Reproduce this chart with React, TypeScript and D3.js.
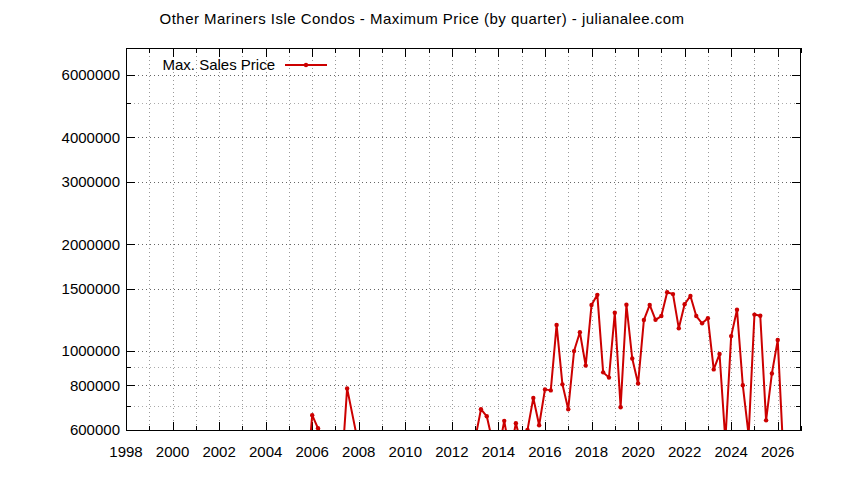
import React from "react";
import * as d3 from "d3";

const TITLE = "Other Mariners Isle Condos - Maximum Price (by quarter) - julianalee.com";
const SERIES_NAME = "Max. Sales Price";

// decimal year of each quarter (year + (q-1)/4)
const quarterTimes = [
  2005.75, 2006.0, 2006.25, 2006.5, 2007.25, 2007.5, 2008.0,
  2013.0, 2013.25, 2013.5, 2013.75,
  2014.0, 2014.25, 2014.5, 2014.75,
  2015.0, 2015.25, 2015.5, 2015.75,
  2016.0, 2016.25, 2016.5, 2016.75,
  2017.0, 2017.25, 2017.5, 2017.75,
  2018.0, 2018.25, 2018.5, 2018.75,
  2019.0, 2019.25, 2019.5, 2019.75,
  2020.0, 2020.25, 2020.5, 2020.75,
  2021.0, 2021.25, 2021.5, 2021.75,
  2022.0, 2022.25, 2022.5, 2022.75,
  2023.0, 2023.25, 2023.5, 2023.75,
  2024.0, 2024.25, 2024.5, 2024.75,
  2025.0, 2025.25, 2025.5, 2025.75,
  2026.0, 2026.25,
];

const maxPrices = [
  420000, 660000, 606000, 570000, 450000, 785000, 540000,
  565000, 686000, 655000, 555000,
  520000, 636000, 515000, 626000,
  542000, 600000, 738000, 618000,
  780000, 775000, 1185000, 806000,
  686000, 1000000, 1130000, 910000,
  1348000, 1440000, 871000, 842000,
  1282000, 695000, 1350000, 953000,
  810000, 1223000, 1349000, 1225000,
  1255000, 1465000, 1447000, 1159000,
  1355000, 1430000, 1255000, 1197000,
  1238000, 888000, 981000, 560000,
  1102000, 1308000, 801000, 580000,
  1267000, 1257000, 638000, 865000,
  1074000, 500000,
];

const xMajorTicks = [1998, 2000, 2002, 2004, 2006, 2008, 2010, 2012, 2014, 2016, 2018, 2020, 2022, 2024, 2026];
const xMinorTicks = [1999, 2001, 2003, 2005, 2007, 2009, 2011, 2013, 2015, 2017, 2019, 2021, 2023, 2025, 2027];
const yMajorTicks = [600000, 800000, 1000000, 1500000, 2000000, 3000000, 4000000, 6000000];
const yMinorTicks = [700000, 900000, 5000000];

const W = 844;
const H = 480;
const L = 126;
const R = 801;
const T = 48;
const B = 431;
const FONT = "'Liberation Sans', Arial, sans-serif";
const FS = 15;
const RED = "#cc0000";

export default function App() {
  const x = d3.scaleLinear().domain([1998, 2027]).range([L, R]);
  const y = d3.scaleLog().domain([595500, 7140000]).range([B, T]);
  const data = quarterTimes.map((t, i) => ({ t, v: maxPrices[i] }));
  const line = d3
    .line<{ t: number; v: number }>()
    .x((d) => x(d.t))
    .y((d) => y(d.v));
  const px = (v: number) => Math.round(v) + 0.5;

  return (
    <svg
      width={W}
      height={H}
      style={{ position: "fixed", left: 0, top: 0, background: "#fff" }}
      fontFamily={FONT}
    >
      <rect x={0} y={0} width={W} height={H} fill="#fff" />
      <defs>
        <clipPath id="plotclip">
          <rect x={L} y={T} width={R - L} height={B - T} />
        </clipPath>
      </defs>
      {/* grid */}
      {[...xMajorTicks, ...xMinorTicks].filter((t) => t > 1998 && t < 2027).map((t) => (
        <line key={"gx" + t} x1={px(x(t))} x2={px(x(t))} y1={T} y2={B} stroke="#999" strokeWidth={1} strokeDasharray="1,3" />
      ))}
      {yMajorTicks.filter((v) => v > 600000).map((v) => (
        <line key={"gy" + v} x1={L} x2={R} y1={px(y(v))} y2={px(y(v))} stroke="#666" strokeWidth={1} strokeDasharray="1,3" />
      ))}
      {yMinorTicks.map((v) => (
        <line key={"gym" + v} x1={L} x2={R} y1={px(y(v))} y2={px(y(v))} stroke="#aaa" strokeWidth={1} strokeDasharray="1,3" />
      ))}
      {/* ticks */}
      {xMajorTicks.map((t) => (
        <g key={"tx" + t}>
          <line x1={px(x(t))} x2={px(x(t))} y1={B} y2={B - 9} stroke="#000" />
          <line x1={px(x(t))} x2={px(x(t))} y1={T} y2={T + 9} stroke="#000" />
          <text x={x(t)} y={457} textAnchor="middle" fontSize={FS} fill="#000">{t}</text>
        </g>
      ))}
      {xMinorTicks.map((t) => (
        <g key={"txm" + t}>
          <line x1={px(x(t))} x2={px(x(t))} y1={B} y2={B - 5} stroke="#000" />
          <line x1={px(x(t))} x2={px(x(t))} y1={T} y2={T + 5} stroke="#000" />
        </g>
      ))}
      {yMajorTicks.map((v) => (
        <g key={"ty" + v}>
          <line x1={L} x2={L + 9} y1={px(y(v))} y2={px(y(v))} stroke="#000" />
          <line x1={R} x2={R - 9} y1={px(y(v))} y2={px(y(v))} stroke="#000" />
          <text x={120} y={y(v)} dy="0.36em" textAnchor="end" fontSize={FS} fill="#000">{v}</text>
        </g>
      ))}
      {yMinorTicks.map((v) => (
        <g key={"tym" + v}>
          <line x1={L} x2={L + 5} y1={px(y(v))} y2={px(y(v))} stroke="#000" />
          <line x1={R} x2={R - 5} y1={px(y(v))} y2={px(y(v))} stroke="#000" />
        </g>
      ))}
      {/* data */}
      <g clipPath="url(#plotclip)">
        <path d={line(data) || ""} fill="none" stroke={RED} strokeWidth={2} strokeLinejoin="round" />
        {data.map((d, i) => (
          <circle key={"p" + i} cx={x(d.t)} cy={y(d.v)} r={2.2} fill={RED} />
        ))}
      </g>
      {/* border */}
      <rect x={L + 0.5} y={T + 0.5} width={R - L - 1} height={B - T - 1} fill="none" stroke="#000" strokeWidth={1} />
      {/* legend */}
      <text x={275} y={70} textAnchor="end" fontSize={FS} fill="#000">{SERIES_NAME}</text>
      <line x1={285} x2={327} y1={65} y2={65} stroke={RED} strokeWidth={2} />
      <circle cx={306} cy={65} r={2.2} fill={RED} />
      {/* title */}
      <text x={422} y={24} textAnchor="middle" fontSize={FS} letterSpacing={0.47} fill="#000">{TITLE}</text>
    </svg>
  );
}
